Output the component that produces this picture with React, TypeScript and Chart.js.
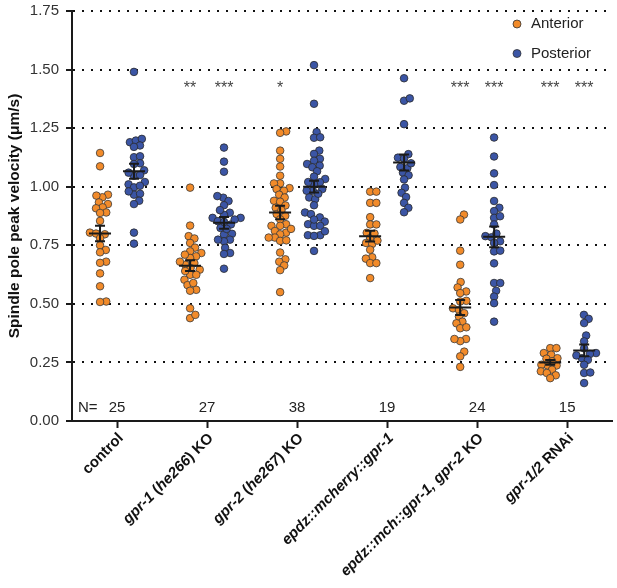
import { useEffect, useRef } from "react";
import { Chart, registerables } from "chart.js";
Chart.register(...registerables);

const categories = ["control", "gpr-1 (he266) KO", "gpr-2 (he267) KO", "epdz::mcherry::gpr-1", "epdz::mch::gpr-1, gpr-2 KO", "gpr-1/2 RNAi"];
// label segments: [text, italic]
const labelParts: [string, boolean][][] = [
  [["control", false]],
  [["gpr-1", true], [" (", false], ["he266", true], [") KO", false]],
  [["gpr-2", true], [" (", false], ["he267", true], [") KO", false]],
  [["epdz::mcherry::gpr-1", true]],
  [["epdz::mch::gpr-1, gpr-2", true], [" KO", false]],
  [["gpr-1/2", true], [" RNAi", false]],
];
const nCounts = ["25", "27", "38", "19", "24", "15"];
const seriesNames = ["Anterior", "Posterior"];
const seriesColors = ["#F28B2A", "#3B55A5"];

const anterior: number[][] = [
  [1.144, 1.087, 0.966, 0.955, 0.962, 0.933, 0.926, 0.912, 0.908, 0.89, 0.888, 0.854, 0.804, 0.797, 0.8, 0.78, 0.75, 0.73, 0.72, 0.68, 0.675, 0.63, 0.575, 0.51, 0.508],
  [0.996, 0.834, 0.789, 0.779, 0.76, 0.74, 0.724, 0.717, 0.703, 0.696, 0.674, 0.667, 0.646, 0.653, 0.624, 0.624, 0.603, 0.58, 0.589, 0.56, 0.556, 0.481, 0.439, 0.453, 0.68, 0.64, 0.71],
  [1.236, 1.23, 1.154, 1.119, 1.086, 1.047, 1.014, 1.014, 0.99, 0.994, 0.983, 0.966, 0.954, 0.94, 0.936, 0.92, 0.91, 0.883, 0.876, 0.861, 0.84, 0.833, 0.833, 0.804, 0.811, 0.797, 0.783, 0.783, 0.769, 0.771, 0.719, 0.69, 0.68, 0.664, 0.644, 0.55, 0.9, 0.82],
  [0.979, 0.979, 0.931, 0.931, 0.87, 0.839, 0.839, 0.803, 0.781, 0.76, 0.756, 0.731, 0.699, 0.693, 0.674, 0.674, 0.61, 0.8, 0.77],
  [0.881, 0.86, 0.727, 0.667, 0.593, 0.57, 0.553, 0.546, 0.513, 0.51, 0.481, 0.474, 0.46, 0.446, 0.424, 0.417, 0.396, 0.4, 0.35, 0.341, 0.35, 0.296, 0.276, 0.231],
  [0.311, 0.311, 0.29, 0.283, 0.266, 0.268, 0.237, 0.24, 0.237, 0.219, 0.212, 0.205, 0.195, 0.183, 0.255],
];
const posterior: number[][] = [
  [1.49, 1.19, 1.197, 1.204, 1.176, 1.17, 1.126, 1.13, 1.1, 1.097, 1.07, 1.047, 1.05, 1.02, 1.01, 0.997, 1.004, 0.966, 0.97, 0.94, 0.926, 0.804, 0.757, 1.06, 0.98],
  [1.167, 1.107, 1.064, 0.953, 0.939, 0.96, 0.921, 0.889, 0.867, 0.867, 0.853, 0.839, 0.824, 0.799, 0.796, 0.774, 0.767, 0.774, 0.739, 0.717, 0.713, 0.65, 0.88, 0.86, 0.85, 0.82, 0.9],
  [1.519, 1.354, 1.233, 1.209, 1.211, 1.154, 1.14, 1.119, 1.111, 1.097, 1.09, 1.083, 1.066, 1.043, 1.033, 1.019, 1.011, 0.99, 0.983, 0.983, 0.954, 0.947, 0.921, 0.89, 0.883, 0.869, 0.851, 0.84, 0.833, 0.833, 0.793, 0.793, 0.79, 0.726, 1.02, 0.97, 0.81, 0.86],
  [1.463, 1.367, 1.377, 1.267, 1.139, 1.124, 1.079, 1.084, 1.06, 1.049, 1.031, 0.996, 0.974, 0.956, 0.931, 0.91, 0.891, 1.12, 1.1],
  [1.21, 1.129, 1.057, 1.007, 0.939, 0.91, 0.896, 0.867, 0.874, 0.839, 0.789, 0.784, 0.767, 0.76, 0.724, 0.727, 0.673, 0.589, 0.589, 0.556, 0.531, 0.503, 0.424, 0.8],
  [0.453, 0.436, 0.418, 0.365, 0.34, 0.29, 0.286, 0.268, 0.261, 0.24, 0.205, 0.207, 0.162, 0.31, 0.28],
];
const anteriorMean = [0.8, 0.663, 0.89, 0.789, 0.484, 0.25];
const anteriorSem = [0.033, 0.023, 0.029, 0.023, 0.032, 0.01];
const posteriorMean = [1.066, 0.846, 1.0, 1.103, 0.786, 0.301];
const posteriorSem = [0.032, 0.025, 0.025, 0.034, 0.044, 0.025];
const anteriorStars = ["", "**", "*", "", "***", "***"];
const posteriorStars = ["", "***", "", "", "***", "***"];
const yTicks = [0, 0.25, 0.5, 0.75, 1.0, 1.25, 1.5, 1.75];

// geometry helpers
const W = 617, H = 588;
const AREA = { left: 72, right: 614, top: 11, bottom: 421 };
const X_MIN = -0.5, X_MAX = categories.length - 0.5;
const PX_PER_X = (AREA.right - AREA.left) / (X_MAX - X_MIN);
const PX_PER_Y = (AREA.bottom - AREA.top) / 1.75;
const COL_OFFSET = 17; // px from category center
const D = 6.2; // swarm spacing px (points may overlap a little)
const FONT = "'Liberation Sans', Arial, sans-serif";

function swarm(values: number[]): number[] {
  const idx = values.map((_, i) => i).sort((a, b) => values[a] - values[b]);
  const placed: { x: number; y: number }[] = [];
  const out = new Array(values.length).fill(0);
  for (const i of idx) {
    const y = values[i] * PX_PER_Y;
    const cands = [0];
    for (const p of placed) {
      const dy = Math.abs(p.y - y);
      if (dy < D) {
        const dx = Math.sqrt(D * D - dy * dy);
        cands.push(p.x + dx, p.x - dx);
      }
    }
    const sorted = cands.map((c, k) => ({ c, k })).sort((a, b) => Math.abs(a.c) - Math.abs(b.c) || a.k - b.k);
    let chosen = 0;
    for (const { c } of sorted) {
      if (placed.every((p) => (p.x - c) ** 2 + (p.y - y) ** 2 >= D * D - 0.01)) {
        chosen = c;
        break;
      }
    }
    placed.push({ x: chosen, y });
    out[i] = chosen;
  }
  return out;
}

function buildPoints(groups: number[][], side: number) {
  const pts: { x: number; y: number }[] = [];
  groups.forEach((vals, ci) => {
    const offs = swarm(vals);
    vals.forEach((v, k) => {
      pts.push({ x: ci + (side * COL_OFFSET + offs[k]) / PX_PER_X, y: v });
    });
  });
  return pts;
}

const overlayPlugin = {
  id: "overlay",
  afterDatasetsDraw(chart: any) {
    const { ctx, scales } = chart;
    const xs = scales.x, ys = scales.y;
    ctx.save();
    // mean +- SEM
    ctx.strokeStyle = "#1a1a1a";
    ctx.lineWidth = 2;
    const drawBar = (cx: number, m: number, s: number) => {
      const ym = ys.getPixelForValue(m);
      const yt = ys.getPixelForValue(m + s);
      const yb = ys.getPixelForValue(m - s);
      ctx.beginPath();
      ctx.moveTo(cx - 11, ym); ctx.lineTo(cx + 11, ym);
      ctx.moveTo(cx, yt); ctx.lineTo(cx, yb);
      ctx.moveTo(cx - 5, yt); ctx.lineTo(cx + 5, yt);
      ctx.moveTo(cx - 5, yb); ctx.lineTo(cx + 5, yb);
      ctx.stroke();
    };
    categories.forEach((_, i) => {
      const c = xs.getPixelForValue(i);
      drawBar(c - COL_OFFSET, anteriorMean[i], anteriorSem[i]);
      drawBar(c + COL_OFFSET, posteriorMean[i], posteriorSem[i]);
    });
    // stars
    ctx.fillStyle = "#444";
    ctx.font = `16px ${FONT}`;
    ctx.textAlign = "center";
    ctx.textBaseline = "alphabetic";
    const starY = ys.getPixelForValue(1.4);
    categories.forEach((_, i) => {
      const c = xs.getPixelForValue(i);
      if (anteriorStars[i]) ctx.fillText(anteriorStars[i], c - COL_OFFSET, starY);
      if (posteriorStars[i]) ctx.fillText(posteriorStars[i], c + COL_OFFSET, starY);
    });
    // N labels
    ctx.fillStyle = "#222";
    ctx.font = `15px ${FONT}`;
    ctx.textBaseline = "middle";
    const nY = ys.getPixelForValue(0.058);
    ctx.textAlign = "left";
    ctx.fillText("N=", AREA.left + 6, nY);
    ctx.textAlign = "center";
    categories.forEach((_, i) => {
      ctx.fillText(nCounts[i], xs.getPixelForValue(i), nY);
    });
    // legend
    seriesNames.forEach((name, k) => {
      const ly = 24 + k * 29.5;
      ctx.beginPath();
      ctx.arc(517, ly, 4, 0, Math.PI * 2);
      ctx.fillStyle = seriesColors[k];
      ctx.fill();
      ctx.lineWidth = 0.8;
      ctx.strokeStyle = "#333";
      ctx.stroke();
      ctx.fillStyle = "#222";
      ctx.font = `15px ${FONT}`;
      ctx.textAlign = "left";
      ctx.textBaseline = "middle";
      ctx.fillText(name, 531, ly);
    });
    ctx.restore();
  },
  afterDraw(chart: any) {
    const { ctx, scales } = chart;
    const xs = scales.x;
    ctx.save();
    ctx.fillStyle = "#111";
    ctx.textBaseline = "middle";
    ctx.textAlign = "left";
    labelParts.forEach((parts, i) => {
      const c = xs.getPixelForValue(i);
      ctx.save();
      ctx.translate(c + 4, AREA.bottom + 15);
      ctx.rotate(-Math.PI / 4);
      let total = 0;
      const widths = parts.map(([t, it]) => {
        ctx.font = `${it ? "italic " : ""}bold 15px ${FONT}`;
        const w = ctx.measureText(t).width;
        total += w;
        return w;
      });
      let x = -total;
      parts.forEach(([t, it], k) => {
        ctx.font = `${it ? "italic " : ""}bold 15px ${FONT}`;
        ctx.fillText(t, x, 0);
        x += widths[k];
      });
      ctx.restore();
    });
    ctx.restore();
  },
};

export default function App() {
  const ref = useRef<HTMLCanvasElement | null>(null);
  useEffect(() => {
    if (!ref.current) return;
    const chart = new Chart(ref.current, {
      type: "scatter",
      data: {
        datasets: [
          {
            label: seriesNames[0],
            data: buildPoints(anterior, -1),
            backgroundColor: seriesColors[0],
            borderColor: "#3a3a3a",
            borderWidth: 0.8,
            pointRadius: 3.8,
          },
          {
            label: seriesNames[1],
            data: buildPoints(posterior, 1),
            backgroundColor: seriesColors[1],
            borderColor: "#2a2a2a",
            borderWidth: 0.8,
            pointRadius: 3.8,
          },
        ],
      },
      plugins: [overlayPlugin],
      options: {
        animation: false,
        responsive: false,
        devicePixelRatio: 1,
        layout: { padding: { left: 0, top: AREA.top, right: W - AREA.right, bottom: 0 } },
        plugins: { legend: { display: false }, tooltip: { enabled: false } },
        scales: {
          x: {
            type: "linear",
            min: X_MIN,
            max: X_MAX,
            afterBuildTicks: (s: any) => {
              s.ticks = categories.map((_, i) => ({ value: i }));
            },
            afterFit: (s: any) => {
              s.height = H - AREA.bottom;
              s.paddingLeft = 0;
              s.paddingRight = 0;
            },
            ticks: { display: false },
            grid: {
              drawOnChartArea: false,
              drawTicks: true,
              tickLength: 7,
              tickColor: "#1a1a1a",
              tickWidth: 2,
            },
            border: { display: true, color: "#1a1a1a", width: 2 },
          },
          y: {
            type: "linear",
            min: 0,
            max: 1.75,
            afterBuildTicks: (s: any) => {
              s.ticks = yTicks.map((v) => ({ value: v }));
            },
            afterFit: (s: any) => {
              s.width = AREA.left;
              s.paddingTop = 0;
              s.paddingBottom = 0;
            },
            ticks: {
              color: "#333",
              font: { family: FONT, size: 15 },
              padding: 7,
              callback: (v: any) => Number(v).toFixed(2),
            },
            grid: {
              color: (ctx: any) => (ctx.tick && ctx.tick.value === 0 ? "rgba(0,0,0,0)" : "#111"),
              lineWidth: 2,
              drawTicks: true,
              tickLength: 6,
              tickColor: "#1a1a1a",
              tickWidth: 2,
              tickBorderDash: [],
            },
            border: { display: true, color: "#1a1a1a", width: 2, dash: [2, 7] },
            title: {
              display: true,
              text: "Spindle pole peak velocity (μm/s)",
              color: "#111",
              font: { family: FONT, size: 15.5, weight: "bold" },
              padding: { top: 5, bottom: 0 },
            },
          },
        },
      },
    } as any);
    return () => chart.destroy();
  }, []);
  return (
    <div style={{ position: "absolute", left: 0, top: 0, width: W, height: H, background: "#fff" }}>
      <canvas ref={ref} width={W} height={H} style={{ width: W, height: H, display: "block" }} />
    </div>
  );
}
